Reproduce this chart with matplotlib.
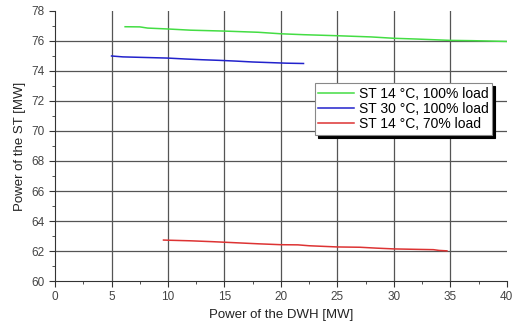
import matplotlib
matplotlib.use("Agg")
import matplotlib.pyplot as plt
from matplotlib.ticker import MultipleLocator

plt.rcParams["font.family"] = ["Liberation Sans", "DejaVu Sans"]

# ST 14 °C, 100% load
x_14_full = [6.2, 7.5, 8.2, 10, 12, 15, 18, 20, 22, 25, 28, 30, 32, 35, 37, 40]
y_14_full = [76.95, 76.94, 76.86, 76.8, 76.72, 76.66, 76.58, 76.48, 76.42, 76.35, 76.27, 76.18, 76.13, 76.04, 76.02, 75.97]

# ST 30 °C, 100% load
x_30_full = [5.0, 6.0, 8.0, 10.0, 11.5, 13.0, 14.5, 16.0, 17.5, 19.0, 20.5, 22.0]
y_30_full = [75.0, 74.94, 74.9, 74.86, 74.8, 74.75, 74.71, 74.66, 74.6, 74.56, 74.52, 74.5]

# ST 14 °C, 70% load
x_14_70 = [9.6, 10.0, 12.0, 14.0, 16.0, 18.0, 20.0, 21.5, 22.5, 25.0, 27.0, 28.5, 30.0, 32.0, 33.5, 34.0, 34.7]
y_14_70 = [62.73, 62.72, 62.68, 62.62, 62.55, 62.48, 62.42, 62.41, 62.35, 62.27, 62.25, 62.19, 62.14, 62.11, 62.09, 62.04, 62.01]

fig, ax = plt.subplots(figsize=(5.15, 3.23), dpi=100)
fig.subplots_adjust(left=0.107, right=0.984, bottom=0.13, top=0.966)

# grid only at interior major ticks (none along the top / right edges)
for gx in range(5, 40, 5):
    ax.axvline(gx, color="#555555", lw=0.9, zorder=0.5)
for gy in range(62, 78, 2):
    ax.axhline(gy, color="#555555", lw=0.9, zorder=0.5)

ax.plot(x_14_full, y_14_full, color="#44dd44", lw=1.1, label="ST 14 °C, 100% load")
ax.plot(x_30_full, y_30_full, color="#2222cc", lw=1.1, label="ST 30 °C, 100% load")
ax.plot(x_14_70, y_14_70, color="#dd3333", lw=1.1, label="ST 14 °C, 70% load")

ax.set_xlim(0, 40)
ax.set_ylim(60, 78)
ax.xaxis.set_major_locator(MultipleLocator(5))
ax.xaxis.set_minor_locator(MultipleLocator(2.5))
ax.yaxis.set_major_locator(MultipleLocator(2))
ax.yaxis.set_minor_locator(MultipleLocator(1))
ax.tick_params(which="both", direction="out", colors="#333333", labelsize=8.5, labelcolor="#444444")
ax.tick_params(which="major", length=4)
ax.tick_params(which="minor", length=2)

for side in ("top", "right"):
    ax.spines[side].set_visible(False)
for side in ("left", "bottom"):
    ax.spines[side].set_color("#333333")

ax.set_xlabel("Power of the DWH [MW]", fontsize=9.5, color="#222222")
ax.set_ylabel("Power of the ST [MW]", fontsize=9.5, color="#222222")

leg = ax.legend(loc="upper left", bbox_to_anchor=(0.575, 0.733), fontsize=10,
                frameon=True, fancybox=False, framealpha=1, edgecolor="#888888",
                shadow={"color": "black", "alpha": 1.0}, handlelength=2.6,
                borderpad=0.25, labelspacing=0.1, handletextpad=0.3,
                borderaxespad=0)
leg.get_frame().set_linewidth(0.8)

fig.savefig("out.png", dpi=100)
